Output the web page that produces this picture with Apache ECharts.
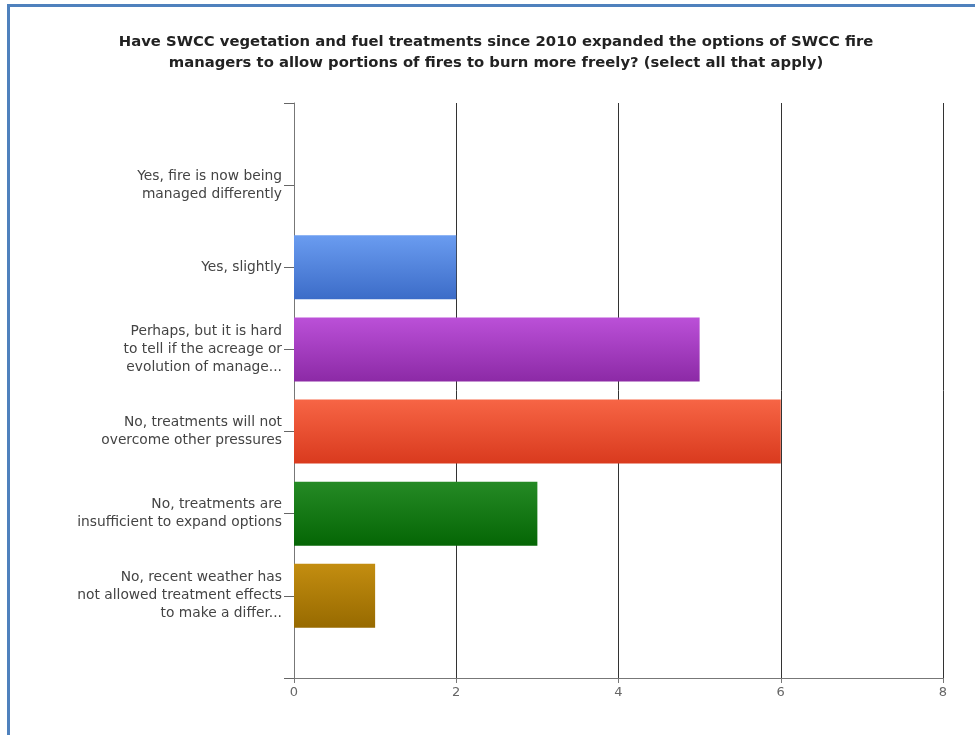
<!DOCTYPE html>
<html><head><meta charset="utf-8">
<script src="https://cdn.jsdelivr.net/npm/echarts@6/dist/echarts.min.js"></script>
<style>
html,body{margin:0;padding:0;background:#fff;}
#frame{position:absolute;left:7px;top:4px;width:975px;height:740px;border-left:3px solid #4f81bd;border-top:3px solid #4f81bd;box-sizing:border-box;}
#c{position:absolute;left:0;top:0;width:975px;height:735px;}
</style></head>
<body>
<div id="frame"></div>
<div id="c"></div>
<script>
const titleText = "Have SWCC vegetation and fuel treatments since 2010 expanded the options of SWCC fire\nmanagers to allow portions of fires to burn more freely? (select all that apply)";
const categories = [
  "Yes, fire is now being\nmanaged differently",
  "Yes, slightly",
  "Perhaps, but it is hard\nto tell if the acreage or\nevolution of manage...",
  "No, treatments will not\novercome other pressures",
  "No, treatments are\ninsufficient to expand options",
  "No, recent weather has\nnot allowed treatment effects\nto make a differ..."
];
const values = [0, 2, 5, 6, 3, 1];
const xTicks = [0, 2, 4, 6, 8];
const barColors = [
  ["#6a9cf0", "#3c6cc8"],
  ["#6a9cf0", "#3c6cc8"],
  ["#bb50d8", "#8c2aa6"],
  ["#f76545", "#d93a1e"],
  ["#258a25", "#056605"],
  ["#c38d10", "#976a00"]
];

const cats = [" "].concat(categories, ["  "]);
const seriesData = [null].concat(values.map((v, i) => ({
  value: v,
  itemStyle: {
    color: new echarts.graphic.LinearGradient(0, 0, 0, 1, [
      {offset: 0, color: barColors[i][0]},
      {offset: 1, color: barColors[i][1]}
    ])
  }
})), [null]);

const chart = echarts.init(document.getElementById('c'), null, {renderer: 'canvas'});
chart.setOption({
  animation: false,
  backgroundColor: 'transparent',
  title: {
    text: titleText,
    left: 491, top: 27, textAlign: 'center',
    textStyle: {fontFamily: 'DejaVu Sans', fontSize: 14.8, fontWeight: 'bold', color: '#222', lineHeight: 21}
  },
  grid: {left: 294, right: 32, top: 103, bottom: 57, containLabel: false},
  xAxis: {
    type: 'value', min: 0, max: 8, interval: 2,
    axisLine: {show: true, lineStyle: {color: '#777', width: 1}},
    axisTick: {show: true, length: 5, lineStyle: {color: '#777'}},
    axisLabel: {color: '#666', fontFamily: 'DejaVu Sans', fontSize: 13, margin: 8,
      formatter: v => xTicks.includes(v) ? String(v) : ''},
    splitLine: {show: true, lineStyle: {color: '#333', width: 1}}
  },
  yAxis: {
    type: 'category', inverse: true, data: cats, boundaryGap: false,
    axisLine: {show: true, lineStyle: {color: '#777', width: 1}},
    axisTick: {show: true, length: 10, lineStyle: {color: '#666'}},
    axisLabel: {color: '#444', fontFamily: 'DejaVu Sans', fontSize: 13.8, lineHeight: 18, margin: 12, align: 'right', interval: 0},
    splitLine: {show: false}
  },
  series: [{
    type: 'bar', data: seriesData, barWidth: 64,
    itemStyle: {borderWidth: 0}
  }]
});
</script>
</body></html>
